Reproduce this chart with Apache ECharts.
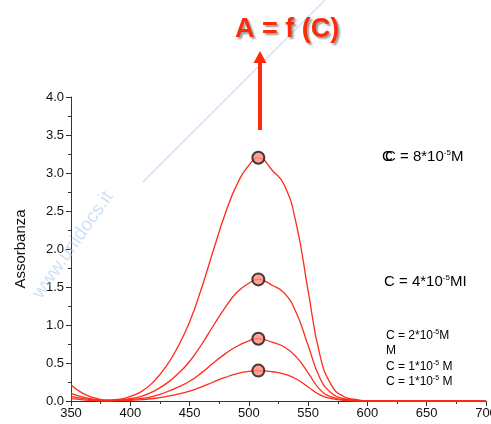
<!DOCTYPE html>
<html>
<head>
<meta charset="utf-8">
<script src="https://cdn.jsdelivr.net/npm/echarts@6/dist/echarts.min.js"></script>
<style>html,body{margin:0;padding:0;background:#fff}#c{width:491px;height:424px}</style>
</head>
<body>
<div id="c"></div>
<script>
const wavelengths = [350,360,370,380,390,400,410,420,430,440,450,460,470,480,490,500,508,520,530,540,550,560,570,580,590,600,610,620,630,640,650,660,670,680,690,700];
const absC8 = [0.21,0.10,0.04,0.01,0.02,0.06,0.13,0.26,0.45,0.71,1.04,1.48,1.98,2.46,2.85,3.10,3.20,3.03,2.84,2.33,1.45,0.60,0.20,0.06,0.02,0,0,0,0,0,0,0,0,0,0,0];
const absC4 = [0.10,0.05,0.02,0.01,0.01,0.03,0.065,0.13,0.225,0.355,0.52,0.74,0.99,1.23,1.43,1.55,1.60,1.52,1.42,1.16,0.73,0.30,0.10,0.03,0.01,0,0,0,0,0,0,0,0,0,0,0];
const absC2 = [0.06,0.03,0.01,0.00,0.01,0.02,0.035,0.065,0.115,0.18,0.26,0.37,0.50,0.62,0.72,0.79,0.82,0.77,0.71,0.58,0.37,0.15,0.05,0.02,0.01,0,0,0,0,0,0,0,0,0,0,0];
const absC1 = [0.03,0.015,0.005,0,0.005,0.01,0.018,0.033,0.057,0.09,0.13,0.185,0.25,0.31,0.36,0.39,0.40,0.385,0.355,0.29,0.185,0.08,0.03,0.01,0,0,0,0,0,0,0,0,0,0,0,0];
const peakLambda = 508;
const peakValues = [3.2, 1.6, 0.82, 0.40];
const xTicks = {min: 350, max: 700, interval: 50};
const yTicks = {min: 0, max: 4, interval: 0.5};

const chart = echarts.init(document.getElementById('c'));
const lineColor = '#ff2a1a';
function mk(vals){ return wavelengths.map((w,i)=>[w, vals[i]]); }
function lineSeries(vals){
  return {type:'line', data: mk(vals), smooth: 0.5, symbol:'none',
    lineStyle:{color: lineColor, width: 1.3}, z: 3};
}
const F = 'Liberation Sans, Arial';
const supRich = {
  big:{fontSize:15, fontFamily:F, color:'#111'},
  bigSup:{fontSize:8, fontFamily:F, color:'#111', padding:[0,0,9,0]},
  sm:{fontSize:12, fontFamily:F, color:'#111'},
  smSup:{fontSize:7, fontFamily:F, color:'#111', padding:[0,0,7,0]},
  smG:{fontSize:12, fontFamily:F, color:'#bbb'},
  smGSup:{fontSize:7, fontFamily:F, color:'#bbb', padding:[0,0,7,0]},
  bigG:{fontSize:15, fontFamily:F, color:'#d0d0d0'}
};
function rt(x,y,text){ return {type:'text', x:x, y:y, z:10, style:{text:text, rich:supRich, textAlign:'left', textVerticalAlign:'middle'}}; }

chart.setOption({
  animation:false,
  grid:{left:71, top:97, right:5, bottom:23, containLabel:false, outerBoundsMode:'none'},
  xAxis:{type:'value', min:xTicks.min, max:xTicks.max, interval:xTicks.interval,
    axisLine:{lineStyle:{color:'#333', width:1}},
    axisTick:{show:true, inside:false, length:5, lineStyle:{color:'#333'}},
    minorTick:{show:true, splitNumber:2, length:3, lineStyle:{color:'#333'}},
    splitLine:{show:false},
    axisLabel:{color:'#111', fontSize:13, fontFamily:F, margin:6, hideOverlap:false}},
  yAxis:{type:'value', min:yTicks.min, max:yTicks.max, interval:yTicks.interval,
    name:'Assorbanza', nameLocation:'middle', nameGap:43,
    nameTextStyle:{color:'#111', fontSize:15, fontFamily:F},
    axisLine:{show:true, lineStyle:{color:'#333', width:1}},
    axisTick:{show:true, inside:false, length:5, lineStyle:{color:'#333'}},
    minorTick:{show:true, splitNumber:2, length:3, lineStyle:{color:'#333'}},
    splitLine:{show:false},
    axisLabel:{color:'#111', fontSize:13, fontFamily:F, margin:7,
      formatter:v=>v.toFixed(1)}},
  series:[
    lineSeries(absC8), lineSeries(absC4), lineSeries(absC2), lineSeries(absC1),
    {type:'scatter', data: peakValues.map(v=>[peakLambda, v]), symbol:'circle', symbolSize:12,
      itemStyle:{color:'#ff8a80', borderColor:'#111', borderWidth:2}, z:5}
  ],
  graphic:[
    {type:'line', shape:{x1:143, y1:182, x2:325, y2:0}, style:{stroke:'rgba(170,200,235,0.6)', lineWidth:1.2}, z:1},
    {type:'text', x:73, y:245, rotation: 55*Math.PI/180, z:1,
      style:{text:'www.unidocs.it', fontSize:19, fontFamily:F, fill:'rgba(160,195,235,0.5)', textAlign:'center', textVerticalAlign:'middle'}},
    {type:'text', x:287, y:30, z:10,
      style:{text:'A = f (C)', fontSize:27, fontWeight:'bold', fontFamily:F, fill:'#ff2a0a',
        textAlign:'center', textVerticalAlign:'middle', textShadowColor:'rgba(90,90,90,0.6)', textShadowOffsetX:2, textShadowOffsetY:2, textShadowBlur:2}},
    {type:'rect', shape:{x:258, y:61, width:4, height:69}, style:{fill:'#ff2a0a'}, z:10},
    {type:'polygon', shape:{points:[[253.5,63],[266.5,63],[260,51]]}, style:{fill:'#ff2a0a'}, z:10},
    rt(382,157,'{bigG|C}'),
    rt(385,157,'{big|C = 8*10}{bigSup|-5}{big|M}'),
    rt(384,282,'{big|C = 4*10}{bigSup|-5}{big|M}{bigG|I}'),
    rt(386,336,'{sm|C = 2*10}{smSup|-5}{smG|M}'),
    rt(386,351,'{sm|M}'),
    rt(386,367,'{smG|C = 1*10}{smGSup|-5}{smG| M}'),
    rt(386,382,'{sm|C = 1*10}{smSup|-5}{sm| M}')
  ]
});
</script>
</body>
</html>
